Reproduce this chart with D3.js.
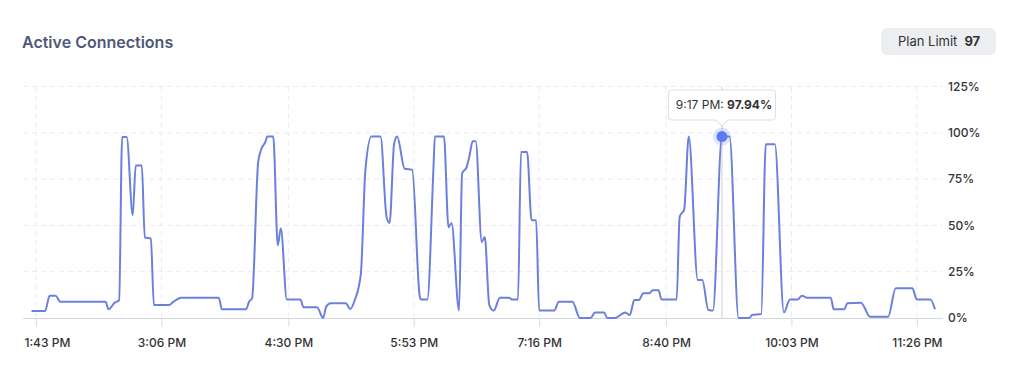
<!DOCTYPE html>
<html>
<head>
<meta charset="utf-8">
<script src="https://cdn.jsdelivr.net/npm/d3@7"></script>
<style>
  html, body { margin: 0; padding: 0; background: #fff; }
  body { width: 1019px; height: 373px; overflow: hidden; font-family: Inter, "Noto Sans", sans-serif; }
  text { font-family: Inter, "Noto Sans", sans-serif; }
</style>
</head>
<body>
<div id="chart"></div>
<script>
let width = 1019, height = 373

// readings of the connections line (% of plan limit)
let times = [
  '13:40', '13:49', '13:52', '13:56', '13:59', '14:29', '14:31', '14:35', '14:38', '14:40',
  '14:43', '14:47', '14:49', '14:53', '14:55', '14:59', '15:01', '15:11', '15:14', '15:19',
  '15:44', '15:46', '16:02', '16:04', '16:06', '16:10', '16:12', '16:15', '16:16', '16:20',
  '16:23', '16:25', '16:29', '16:38', '16:40', '16:49', '16:53', '16:55', '16:58', '17:08',
  '17:11', '17:14', '17:18', '17:21', '17:25', '17:31', '17:35', '17:37', '17:40', '17:42',
  '17:47', '17:52', '17:57', '17:58', '18:02', '18:06', '18:07', '18:13', '18:16', '18:18',
  '18:23', '18:25', '18:28', '18:30', '18:32', '18:34', '18:38', '18:40', '18:43', '18:46',
  '18:50', '18:56', '18:58', '19:02', '19:04', '19:08', '19:11', '19:14', '19:16', '19:26',
  '19:29', '19:38', '19:43', '19:50', '19:53', '19:59', '20:01', '20:06', '20:13', '20:16',
  '20:19', '20:22', '20:25', '20:29', '20:31', '20:35', '20:37', '20:47', '20:49', '20:52',
  '20:55', '21:01', '21:04', '21:08', '21:11', '21:17', '21:22', '21:28', '21:35', '21:37',
  '21:43', '21:46', '21:52', '21:58', '22:02', '22:07', '22:10', '22:13', '22:29', '22:31',
  '22:38', '22:40', '22:49', '22:55', '23:07', '23:12', '23:23', '23:26', '23:35', '23:38'
]
let values = [
  3.8, 3.8, 12, 12, 8.8, 8.8, 4.7, 8.2, 9.7, 97.7,
  97.7, 55.5, 82.4, 82.4, 43.5, 43, 7, 7, 8.8, 11,
  11, 4.7, 4.7, 8.8, 10.6, 84, 91, 95.5, 98, 98,
  39.3, 48.3, 10, 10, 5.8, 5.8, 0, 6, 7.9, 7.9,
  4.9, 9.7, 24, 80, 98, 98, 54.6, 51.3, 94, 98,
  80.6, 80, 11.5, 10, 10, 80, 98, 98, 49, 51.3,
  4, 78, 81.5, 88, 95.5, 95.5, 41, 43.8, 7, 4,
  11, 11, 10, 10, 89.6, 89.6, 52.8, 52.8, 4, 4,
  8.8, 8.8, 0, 0, 3, 3, 0, 0, 3, 1.6,
  9.7, 9.7, 13.3, 13.3, 15, 15, 10, 10, 54.7, 58.6,
  98, 20.5, 20.5, 4.3, 4, 97.94, 98, 0, 0, 1.6,
  2.2, 93.8, 93.8, 3, 10, 10, 12, 11, 11, 4.7,
  4.7, 8, 8.3, 0.7, 0.7, 16, 16, 10, 10, 4.7
]

let xTickTimes = ['13:43', '15:06', '16:30', '17:53', '19:16', '20:40', '22:03', '23:26']
let xTickLabels = ['1:43 PM', '3:06 PM', '4:30 PM', '5:53 PM', '7:16 PM', '8:40 PM', '10:03 PM', '11:26 PM']
let yTicks = [0, 25, 50, 75, 100, 125]

let title = 'Active Connections'
let planLimit = 97
let hoverTime = '21:17'
let hoverLabel = '9:17 PM'

let parse = d3.timeParse('%H:%M')
let data = times.map((t, i) => ({ t: parse(t), v: values[i] }))

let svg = d3.select('#chart')
  .append('svg')
  .attr('width', width)
  .attr('height', height)

let x = d3.scaleTime()
  .domain(d3.extent(data, d => d.t))
  .range([31.5, 935])
let y = d3.scaleLinear()
  .domain([0, 125])
  .range([318, 86.5])

let left = 23, right = 943

// title + plan limit badge
svg.append('text')
  .attr('x', 22)
  .attr('y', 48)
  .attr('fill', '#4f5879')
  .attr('font-size', 16)
  .attr('font-weight', 600)
  .text(title)

let badge = svg.append('g')
badge.append('rect')
  .attr('x', 881).attr('y', 28)
  .attr('width', 115).attr('height', 27)
  .attr('rx', 6)
  .attr('fill', '#eceef1')
let badgeText = badge.append('text')
  .attr('x', 898).attr('y', 46)
  .attr('font-size', 13)
  .attr('fill', '#333')
badgeText.append('tspan').text('Plan Limit')
badgeText.append('tspan').attr('dx', 7).attr('font-weight', 700).text(planLimit)

// grid
let grid = svg.append('g')
grid.selectAll('.hgrid')
  .data(yTicks.filter(d => d > 0))
  .enter()
  .append('line')
  .attr('class', 'hgrid')
  .attr('x1', left).attr('x2', right)
  .attr('y1', d => y(d)).attr('y2', d => y(d))
  .attr('stroke', '#ebebef')
  .attr('stroke-dasharray', '5 4')

let tickDates = xTickTimes.map(parse)
grid.selectAll('.vgrid')
  .data(tickDates)
  .enter()
  .append('line')
  .attr('class', 'vgrid')
  .attr('x1', d => x(d)).attr('x2', d => x(d))
  .attr('y1', y(125)).attr('y2', y(0))
  .attr('stroke', '#ebebef')
  .attr('stroke-dasharray', '5 4')

// baseline
svg.append('line')
  .attr('x1', left).attr('x2', right)
  .attr('y1', y(0) + 0.5).attr('y2', y(0) + 0.5)
  .attr('stroke', '#d3d6dd')

// x axis
let xAxis = d3.axisBottom(x)
  .tickValues(tickDates)
  .tickFormat((d, i) => xTickLabels[i])
  .tickSize(8)
  .tickPadding(12)
let gx = svg.append('g')
  .attr('transform', `translate(0, ${y(0) + 0.5})`)
  .call(xAxis)
gx.select('.domain').remove()
gx.selectAll('line').attr('stroke', '#d8dae0')
gx.selectAll('text')
  .attr('font-size', 12)
  .attr('font-weight', 500)
  .attr('fill', '#333')
  .attr('font-family', 'Inter, sans-serif')
// first label is kept inside the plot's left edge
gx.selectAll('text')
  .filter((d, i) => i === 0)
  .attr('text-anchor', 'start')
  .attr('x', left + 1 - x(tickDates[0]))

// y axis on the right
let yAxis = d3.axisRight(y)
  .tickValues(yTicks)
  .tickFormat(d => d + '%')
  .tickSize(0)
  .tickPadding(5)
let gy = svg.append('g')
  .attr('transform', `translate(${right}, 0)`)
  .call(yAxis)
gy.select('.domain').remove()
gy.selectAll('text')
  .attr('font-size', 12)
  .attr('font-weight', 500)
  .attr('fill', '#333')
  .attr('font-family', 'Inter, sans-serif')

// hover cursor line
let hx = x(parse(hoverTime))
let hv = values[times.indexOf(hoverTime)]
svg.append('line')
  .attr('x1', hx).attr('x2', hx)
  .attr('y1', y(125)).attr('y2', y(0))
  .attr('stroke', '#cfcfd4')

// the line
let line = d3.line()
  .x(d => x(d.t))
  .y(d => y(d.v))
  .curve(d3.curveMonotoneX)
svg.append('path')
  .datum(data)
  .attr('fill', 'none')
  .attr('stroke', '#6a80dc')
  .attr('stroke-width', 2)
  .attr('stroke-linejoin', 'round')
  .attr('d', line)

// hover dot
svg.append('circle')
  .attr('cx', hx).attr('cy', y(hv))
  .attr('r', 9)
  .attr('fill', '#5b7cf0')
  .attr('fill-opacity', 0.2)
svg.append('circle')
  .attr('cx', hx).attr('cy', y(hv))
  .attr('r', 5.5)
  .attr('fill', '#5b7cf0')

// tooltip
let tip = svg.append('g').attr('transform', `translate(${hx}, 0)`)
let tw = 107, th = 30, ty = 90
tip.append('path')
  .attr('d', `M${-tw / 2},${ty + 3} q0,-3 3,-3 h${tw - 6} q3,0 3,3 v${th - 6} q0,3 -3,3 h${-(tw / 2 - 3 - 6)} l-6,6 l-6,-6 h${-(tw / 2 - 3 - 6)} q-3,0 -3,-3 z`)
  .attr('fill', '#fff')
  .attr('stroke', '#dcdde2')
let tipText = tip.append('text')
  .attr('x', 2).attr('y', ty + 19)
  .attr('text-anchor', 'middle')
  .attr('font-size', 12)
  .attr('fill', '#333')
tipText.append('tspan').text(hoverLabel + ': ')
tipText.append('tspan').attr('font-weight', 700).text(hv.toFixed(2) + '%')
</script>
</body>
</html>
